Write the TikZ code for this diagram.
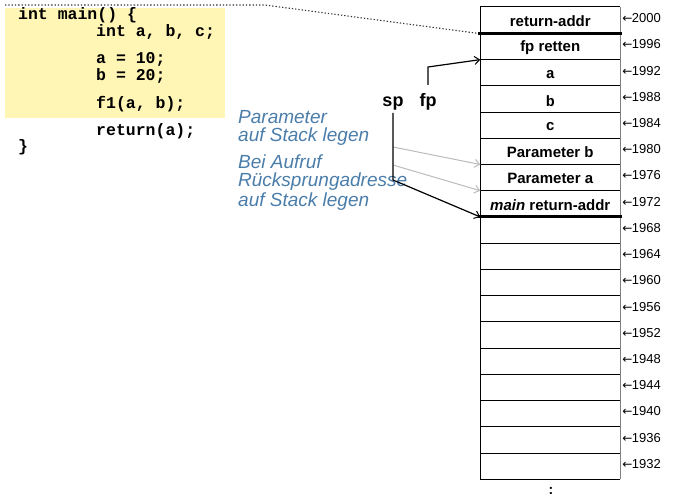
\documentclass[tikz,border=0pt]{standalone}
\usepackage{fontspec}
\setmainfont{Liberation Sans}
\newfontfamily\codefont{Liberation Mono}
\newfontfamily\symfont{DejaVu Sans}
\usetikzlibrary{arrows.meta}
\definecolor{codebg}{HTML}{FFF5B5}
\definecolor{noteblue}{HTML}{4A7DAA}
\definecolor{arrgray}{HTML}{BBBBBB}
\begin{document}
\begin{tikzpicture}[x=1pt,y=-1pt,
  cell/.style={minimum width=139.5pt,minimum height=26.22pt,inner sep=0pt,draw=none},
  stxt/.style={font=\bfseries\fontsize{15}{17}\selectfont},
  sletter/.style={font=\codefont\bfseries\fontsize{15}{17}\selectfont},
  addr/.style={anchor=west,inner sep=0pt,font=\fontsize{13}{15}\selectfont},
  code/.style={anchor=base west,inner sep=0pt,font=\codefont\bfseries\fontsize{16.5}{17}\selectfont},
  note/.style={anchor=base west,inner sep=0pt,text=noteblue,font=\itshape\fontsize{19}{20}\selectfont},
  ptr/.style={anchor=base,inner sep=0pt,font=\bfseries\fontsize{18}{20}\selectfont},
  arr/.style={line width=1.2pt,-{Straight Barb[length=5pt,width=8pt,line width=1pt]}},
  garr/.style={arrgray,line width=1pt,-{Straight Barb[length=5pt,width=8pt,line width=1pt]}},
  dotline/.style={black!80,line width=1.1pt,dash pattern=on 1.3pt off 2pt}
]
\useasboundingbox (0,0) rectangle (673,500);

% code box
\fill[codebg] (5,8) rectangle (225,118);
\node[code] (c1) at (18,20) {int main() \{};
\node[code] (c2) at (96,37) {int a, b, c;};
\node[code] (c3) at (96,64) {a = 10;};
\node[code] (c4) at (96,81) {b = 20;};
\node[code] (c5) at (96,109) {f1(a, b);};
\node[code] (c6) at (96,136) {return(a);};
\node[code] (c7) at (18,152) {\}};

% stack cells
\foreach \i in {0,...,17}{
  \node[cell] (r\i) at (550.25,{7+(\i+0.5)*26.22}) {};
}
\node[stxt] (t0) at ([yshift=-1pt]r0) {return-addr};
\node[stxt] (t1) at ([yshift=-1pt]r1) {fp retten};
\node[sletter] (t2) at ([yshift=-2pt]r2) {a};
\node[sletter] (t3) at ([yshift=-2pt]r3) {b};
\node[sletter] (t4) at ([yshift=-2pt]r4) {c};
\node[stxt] (t5) at ([yshift=-1pt]r5) {Parameter b};
\node[stxt] (t6) at ([yshift=-1pt]r6) {Parameter a};
\node[stxt] (t7) at ([yshift=-1pt]r7) {\textit{main} return-addr};

\draw[line width=0.8pt] (r0.north west) -- (r0.north east);
\foreach \i in {0,...,17}{
  \draw[line width=0.8pt] (r\i.south west) -- (r\i.south east);
}
\draw[line width=0.9pt] (r0.north west) -- (r17.south west);
\draw[gray,line width=1.2pt] (r0.north east) -- (r17.south east);
\draw[line width=3pt] ([xshift=-2pt]r0.south west) -- ([xshift=2pt]r0.south east);
\draw[line width=3pt] ([xshift=-2pt]r7.south west) -- ([xshift=2pt]r7.south east);

% addresses
\foreach \i in {0,...,17}{
  \pgfmathtruncatemacro{\ad}{2000-4*\i}
  \node[addr] (a\i) at ([xshift=2pt,yshift=2pt]r\i.east) {{\symfont\fontsize{12}{14}\selectfont ←}\kern-0.5pt\ad};
}

% dotted link
\coordinate (d0) at (5,5);
\coordinate (d1) at (265,5);
\draw[dotline] (d0) -- (d1) -- ([xshift=-2pt]r0.south west);

% notes
\node[note] (n1) at (238,124) {Parameter};
\node[note] (n2) at (238,142) {auf Stack legen};
\node[note] (n3) at (238,169) {Bei Aufruf};
\node[note] (n4) at (238,187) {Rücksprungadresse};
\node[note] (n5) at (238,207) {auf Stack legen};

% pointers
\node[ptr] (sp) at (393,107) {sp};
\node[ptr] (fp) at (428,107) {fp};
\coordinate (fptop) at (428,67);
\coordinate (spbend) at (393,180);
\coordinate (g1) at (393,147);
\coordinate (g2) at (393,165);
\draw[garr] (g1) -- (r5.south west);
\draw[garr] (g2) -- (r6.south west);
\draw[arr] ([yshift=9pt]fp.north) -- (fptop) -- (r1.south west);
\draw[arr] ([yshift=-2pt]sp.south) -- (spbend) -- (r7.south west);

\node[inner sep=0pt,font=\bfseries\fontsize{14}{16}\selectfont] (dots) at (551,491) {:};
\end{tikzpicture}
\end{document}
